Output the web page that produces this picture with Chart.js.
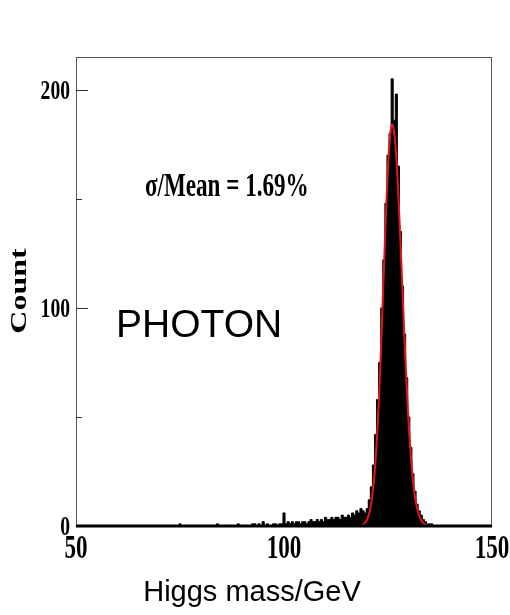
<!DOCTYPE html>
<html>
<head>
<meta charset="utf-8">
<script src="https://cdn.jsdelivr.net/npm/chart.js@4.4.1/dist/chart.umd.min.js"></script>
<style>
  body { margin: 0; background: #fff; }
  #wrap { width: 510px; height: 615px; }
</style>
</head>
<body>
<div id="wrap"><canvas id="higgsChart" width="510" height="615"></canvas></div>
<script>
// histogram of reconstructed mass, 0.5 GeV bins starting at 70 GeV
const binStart = 70;
const binWidth = 0.5;
const binCounts = [
    0, 0, 0, 0, 0, 0, 0, 0, 0, 0,            // 70 - 74.5
    1, 0, 0, 0, 0, 0, 0, 0, 0, 0,            // 75 - 79.5
    0, 0, 0, 0, 0, 0, 0, 0, 1, 0,            // 80 - 84.5
    0, 0, 0, 0, 0, 0, 0, 0, 1, 0,            // 85 - 89.5
    0, 0, 0, 0, 0, 1, 1, 0, 1, 0,            // 90 - 94.5
    2, 0, 1, 0, 0, 1, 1, 0, 1, 1,            // 95 - 99.5
    6, 1, 2, 1, 2, 1, 2, 2, 1, 2,            // 100 - 104.5
    2, 1, 2, 3, 2, 2, 3, 2, 3, 2,            // 105 - 109.5
    4, 3, 3, 4, 3, 4, 4, 3, 5, 4,            // 110 - 114.5
    4, 5, 4, 6, 5, 7, 6, 8, 7, 6,            // 115 - 119.5
    8, 12, 18, 28, 42, 58, 75, 100, 122, 148, // 120 - 124.5
    170, 180, 205, 186, 198, 165, 135, 110, 88, 68, // 125 - 129.5
    50, 36, 24, 16, 10, 7, 5, 3, 2, 1,       // 130 - 134.5
    1, 1, 0, 0, 0, 0, 0, 0, 0, 0             // 135 - 139.5
];

// gaussian fit curve (red)
const fitMass = [118.5, 119, 119.5, 120, 120.5, 121, 121.5, 122, 122.5, 123, 123.5, 124, 124.5, 125, 125.5, 126,
    126.5, 127, 127.5, 128, 128.5, 129, 129.5, 130, 130.5, 131, 131.5, 132, 132.5, 133, 133.5, 134, 134.5, 135];
const fitCount = [0.3, 0.7, 1.5, 3.1, 6, 10.8, 18.5, 30, 46, 66, 91, 117, 143, 164, 179, 184,
    180, 169, 151, 130, 107, 84, 64, 46, 32, 21, 13, 8.1, 4.7, 2.6, 1.4, 0.7, 0.3, 0.1];

const xTicks = [50, 100, 150];
const yTicks = [0, 100, 200];
const yMinorTicks = [50, 150];

const xLabel = 'Higgs mass/GeV';
const yLabel = 'Count';
const ratioText = 'σ/Mean = 1.69%';
const channelText = 'PHOTON';

const histPoints = binCounts.map((c, i) => ({ x: binStart + i * binWidth, y: c }));
const fitPoints = fitMass.map((m, i) => ({ x: m, y: fitCount[i] }));

const SQ = 0.7; // the serif text in the picture is squeezed sideways
const serif = 'Liberation Serif';

function squeezed(ctx, text, x, y, size, align, rotate) {
    ctx.save();
    ctx.translate(x, y);
    ctx.scale(SQ, 1);
    if (rotate) ctx.rotate(-Math.PI / 2);
    ctx.font = 'bold ' + size + 'px "' + serif + '"';
    ctx.textAlign = align;
    ctx.textBaseline = 'middle';
    ctx.fillStyle = '#000';
    ctx.fillText(text, 0, 0);
    ctx.restore();
}

const framePlugin = {
    id: 'frame',
    afterDraw(chart) {
        const ctx = chart.ctx;
        const a = chart.chartArea;
        const xs = chart.scales.x;
        const ys = chart.scales.y;

        // thin grey frame
        ctx.save();
        ctx.strokeStyle = '#555';
        ctx.lineWidth = 1;
        ctx.strokeRect(a.left + 0.5, a.top + 0.5, a.right - a.left - 1, a.bottom - a.top);

        // inward ticks on the y axis
        ctx.strokeStyle = '#333';
        yTicks.forEach(v => {
            const py = Math.round(ys.getPixelForValue(v)) + 0.5;
            ctx.beginPath(); ctx.moveTo(a.left, py); ctx.lineTo(a.left + 12, py); ctx.stroke();
        });
        yMinorTicks.forEach(v => {
            const py = Math.round(ys.getPixelForValue(v)) + 0.5;
            ctx.beginPath(); ctx.moveTo(a.left, py); ctx.lineTo(a.left + 6, py); ctx.stroke();
        });

        // thick black baseline
        ctx.strokeStyle = '#000';
        ctx.lineWidth = 3;
        const y0 = ys.getPixelForValue(0);
        ctx.beginPath(); ctx.moveTo(a.left, y0); ctx.lineTo(a.right, y0); ctx.stroke();
        ctx.restore();

        // tick labels
        yTicks.forEach(v => squeezed(ctx, String(v), a.left - 6, ys.getPixelForValue(v) + 2, 28, 'right'));
        xTicks.forEach(v => squeezed(ctx, String(v), xs.getPixelForValue(v), 549, 33, 'center'));

        // axis titles and notes
        squeezed(ctx, yLabel, 20, 291, 32, 'center', true);
        squeezed(ctx, ratioText, 145, 187, 33, 'left');

        ctx.save();
        ctx.fillStyle = '#000';
        ctx.textBaseline = 'alphabetic';
        ctx.textAlign = 'left';
        ctx.font = '39px "Liberation Sans"';
        ctx.fillText(channelText, 116, 337);
        ctx.textAlign = 'center';
        ctx.font = '29px "Liberation Sans"';
        ctx.fillText(xLabel, 252, 601);
        ctx.restore();
    }
};

new Chart(document.getElementById('higgsChart'), {
    type: 'line',
    data: {
        datasets: [
            {
                label: 'fit',
                data: fitPoints,
                borderColor: '#e4141b',
                borderWidth: 2,
                pointRadius: 0,
                tension: 0.4,
                fill: false
            },
            {
                label: 'events',
                data: histPoints,
                borderColor: '#000',
                backgroundColor: '#000',
                borderWidth: 1,
                pointRadius: 0,
                stepped: 'middle',
                fill: 'origin'
            }
        ]
    },
    options: {
        responsive: false,
        animation: false,
        layout: { padding: { left: 76, right: 18, top: 57, bottom: 89 } },
        plugins: { legend: { display: false }, tooltip: { enabled: false } },
        scales: {
            x: {
                type: 'linear', min: 50, max: 150,
                grid: { display: false }, border: { display: false },
                ticks: { display: false },
                afterFit(s) { s.height = 0; }
            },
            y: {
                type: 'linear', min: 0, max: 215,
                grid: { display: false }, border: { display: false },
                ticks: { display: false },
                afterFit(s) { s.width = 0; }
            }
        }
    },
    plugins: [framePlugin]
});
</script>
</body>
</html>
